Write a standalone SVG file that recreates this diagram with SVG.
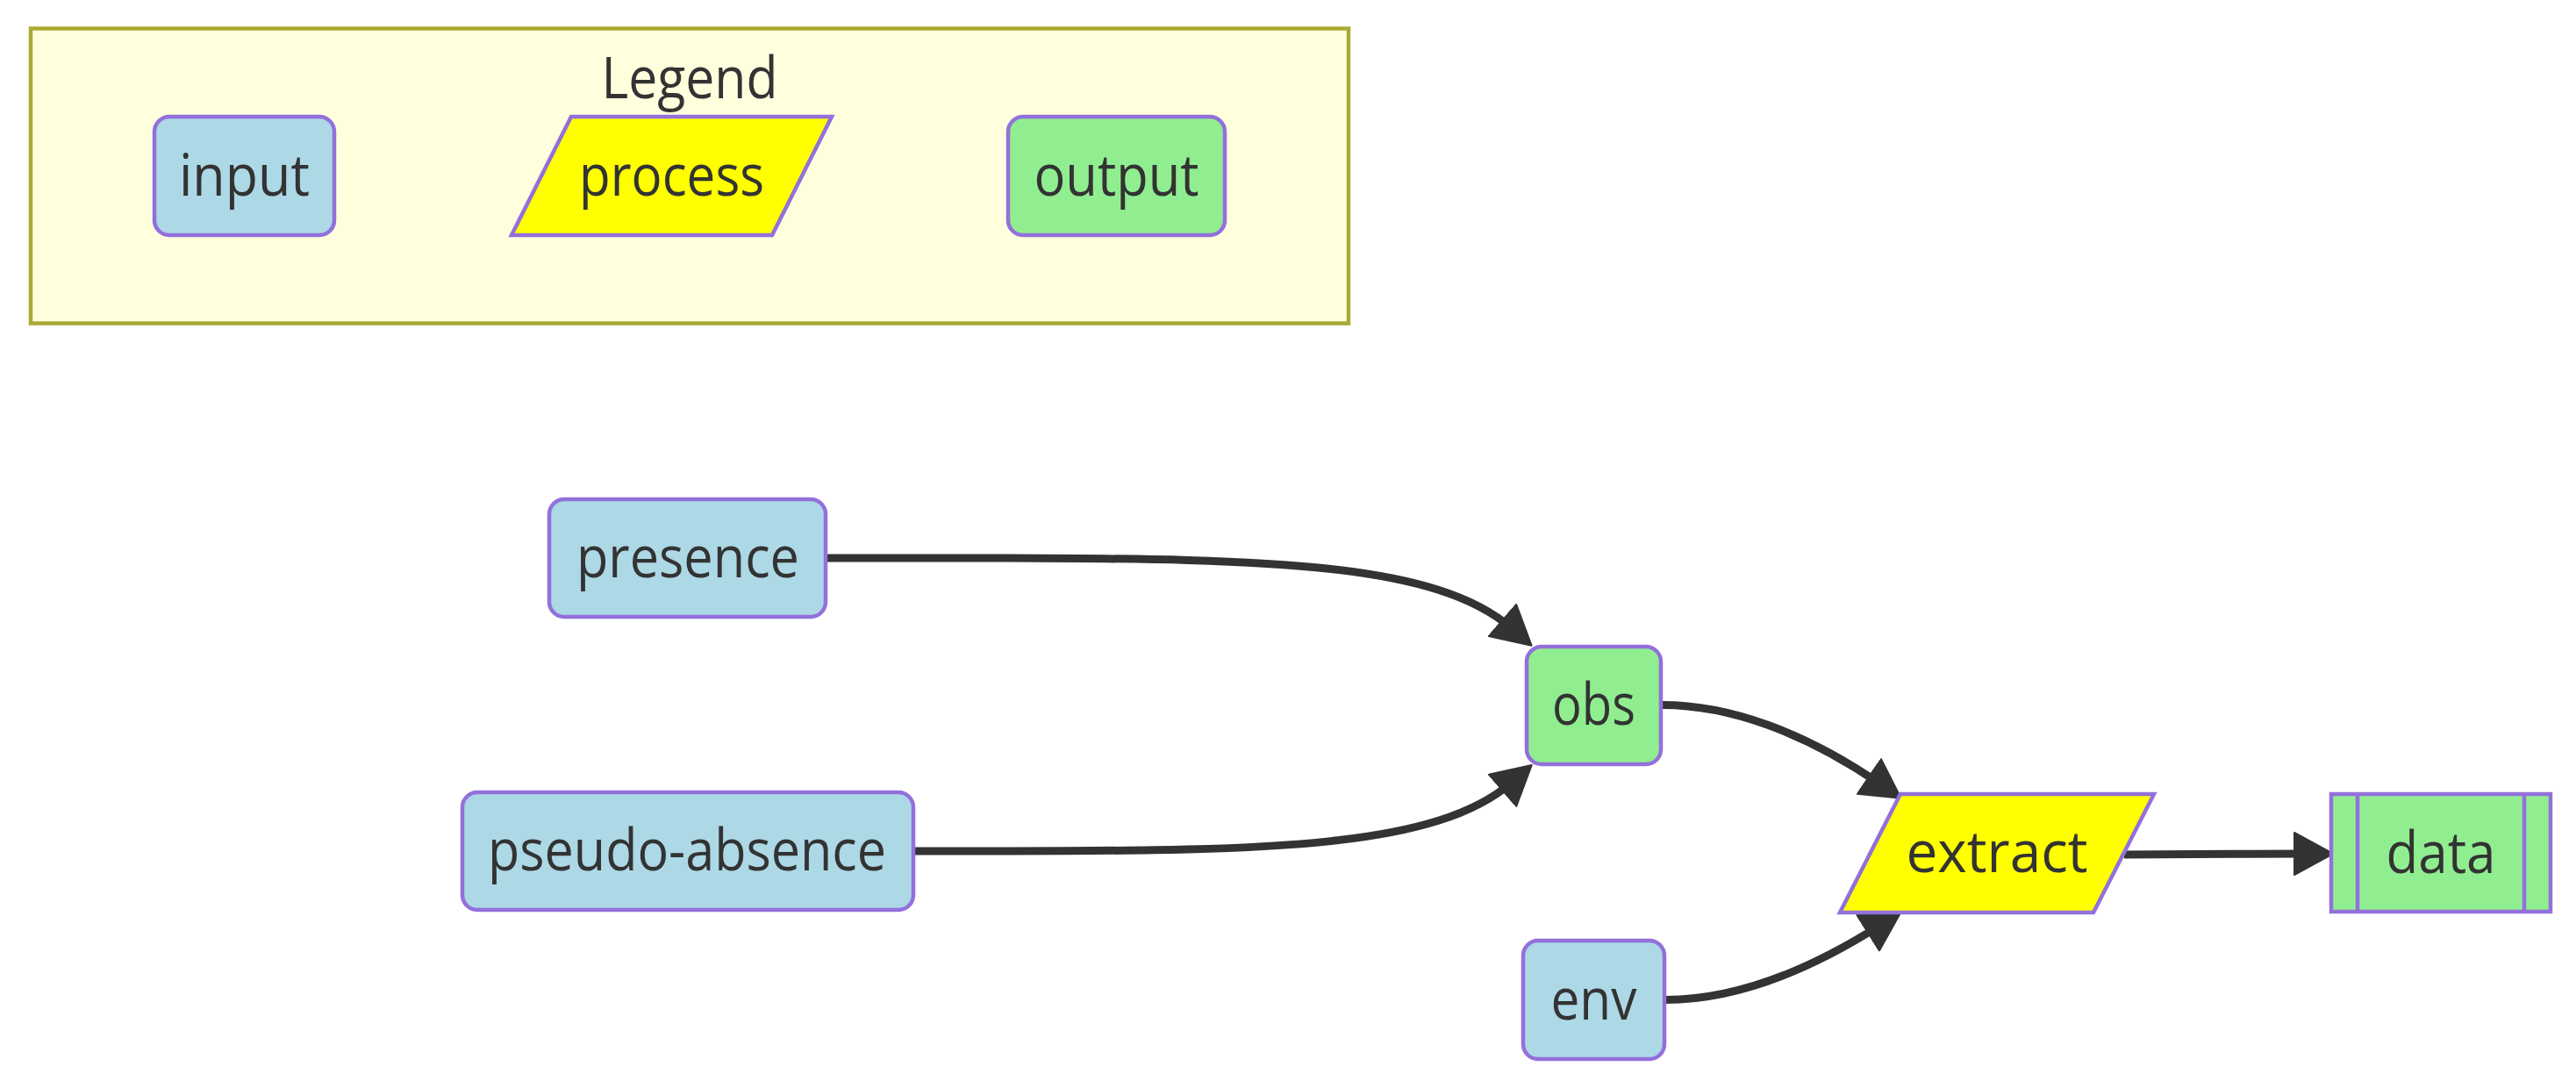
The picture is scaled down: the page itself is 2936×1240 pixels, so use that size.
<svg xmlns="http://www.w3.org/2000/svg" width="2936" height="1240" viewBox="0 0 2936 1240">
<style>
  .lbl { font-family: "Open Sans", "Noto Sans", "DejaVu Sans", sans-serif; font-size: 66px; fill: #333333; text-anchor: middle; }
  .shape { stroke: #9370DB; stroke-width: 4.5; }
  .in { fill: #ADD8E6; }
  .proc { fill: #FFFF00; }
  .out { fill: #90EE90; }
  .edge { fill: none; stroke: #333333; stroke-width: 9; }
  .cluster { fill: #FFFFDE; stroke: #AAAA33; stroke-width: 4.5; }
</style>
<defs>
  <marker id="arrow" markerUnits="userSpaceOnUse" markerWidth="46" markerHeight="50" viewBox="-1 -1 46 50" refX="14" refY="24" orient="auto">
    <path d="M0,0 L44,24 L0,48 z" fill="#333333" stroke="#333333" stroke-width="2" stroke-linejoin="round"/>
  </marker>
</defs>
<rect width="2936" height="1240" fill="#ffffff"/>

<g id="legend">
  <rect class="cluster" x="35" y="32.5" width="1502" height="336"/>
  <text class="lbl" x="786" y="112" textLength="201" lengthAdjust="spacingAndGlyphs">Legend</text>
  <g id="legend-input">
    <rect class="shape in" x="176" y="133" width="205" height="135" rx="17"/>
    <text class="lbl" x="278.5" y="223" textLength="149" lengthAdjust="spacingAndGlyphs">input</text>
  </g>
  <g id="legend-process">
    <polygon class="shape proc" points="651,133 948,133 880,268 583,268"/>
    <text class="lbl" x="765.5" y="223" textLength="211" lengthAdjust="spacingAndGlyphs">process</text>
  </g>
  <g id="legend-output">
    <rect class="shape out" x="1149" y="133" width="247" height="135" rx="17"/>
    <text class="lbl" x="1272.5" y="223" textLength="188" lengthAdjust="spacingAndGlyphs">output</text>
  </g>
</g>

<g id="connectors">
  <path class="edge" marker-end="url(#arrow)" d="M941,636 L1150,636 C1450,637 1637,641.5 1723,716.2"/>
  <path class="edge" marker-end="url(#arrow)" d="M1041,970 L1150,970 C1450,969.5 1637,966.3 1723.1,891.6"/>
  <path class="edge" marker-end="url(#arrow)" d="M1893,803.5 C1970,803 2056.3,834.2 2142,892.9"/>
  <path class="edge" marker-end="url(#arrow)" d="M1897,1139.5 C1970,1140 2053,1111.3 2141,1055.8"/>
  <path class="edge" marker-end="url(#arrow)" d="M2421,974 C2500,973.5 2560,973 2629,973"/>
</g>

<g id="presence">
  <rect class="shape in" x="626" y="569" width="315" height="134" rx="17"/>
  <text class="lbl" x="784" y="658" textLength="254" lengthAdjust="spacingAndGlyphs">presence</text>
</g>
<g id="pseudo-absence">
  <rect class="shape in" x="527" y="903" width="514" height="134" rx="17"/>
  <text class="lbl" x="783" y="992" textLength="454" lengthAdjust="spacingAndGlyphs">pseudo-absence</text>
</g>
<g id="obs">
  <rect class="shape out" x="1740" y="737" width="153" height="134" rx="17"/>
  <text class="lbl" x="1816.5" y="826" textLength="95" lengthAdjust="spacingAndGlyphs">obs</text>
</g>
<g id="env">
  <rect class="shape in" x="1736" y="1072" width="161" height="135" rx="17"/>
  <text class="lbl" x="1816.5" y="1161.5" textLength="98" lengthAdjust="spacingAndGlyphs">env</text>
</g>
<g id="extract">
  <polygon class="shape proc" points="2166,905 2455,905 2386,1040 2097,1040"/>
  <text class="lbl" x="2276" y="994" textLength="207" lengthAdjust="spacingAndGlyphs">extract</text>
</g>
<g id="data">
  <rect class="shape out" x="2657" y="905" width="250" height="134"/>
  <line class="shape" x1="2687" y1="905" x2="2687" y2="1039"/>
  <line class="shape" x1="2877" y1="905" x2="2877" y2="1039"/>
  <text class="lbl" x="2782" y="995" textLength="125" lengthAdjust="spacingAndGlyphs">data</text>
</g>
</svg>
